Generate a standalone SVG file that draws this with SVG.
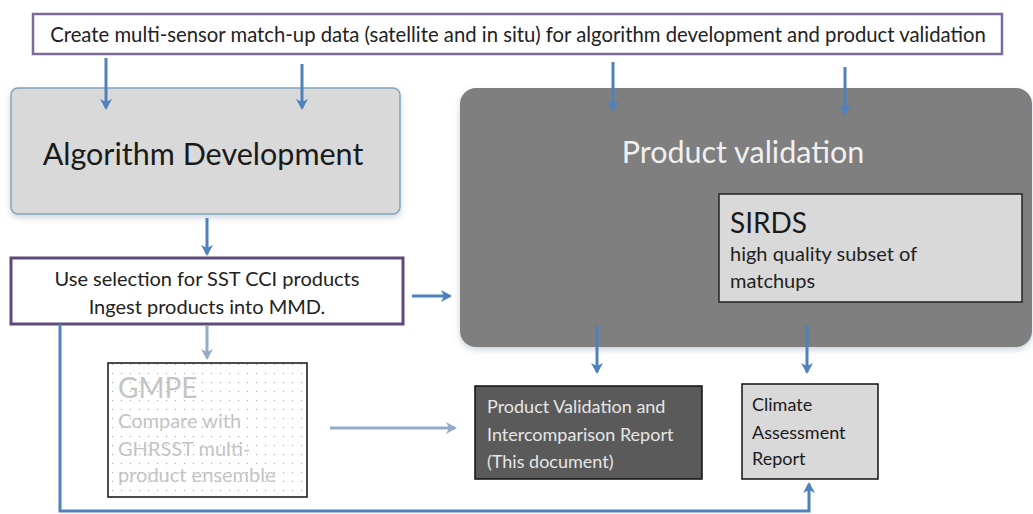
<svg xmlns="http://www.w3.org/2000/svg" width="1033" height="514" viewBox="0 0 1033 514">
<defs>
<marker id="ah" markerWidth="14" markerHeight="14" refX="9" refY="6" orient="auto" markerUnits="userSpaceOnUse">
<path d="M0,0 L11,6 L0,12 L3,6 Z" fill="#4f81bd"/>
</marker>
<marker id="ahl" markerWidth="14" markerHeight="14" refX="9" refY="6" orient="auto" markerUnits="userSpaceOnUse">
<path d="M0,0 L11,6 L0,12 L3,6 Z" fill="#93abc9"/>
</marker>
<pattern id="dots" width="9" height="9" patternUnits="userSpaceOnUse">
<rect width="9" height="9" fill="#ffffff"/>
<circle cx="4.5" cy="4.5" r="0.7" fill="#b0b0b0"/>
</pattern>
<filter id="sh" x="-5%" y="-5%" width="110%" height="115%">
<feDropShadow dx="0" dy="3" stdDeviation="3" flood-color="#9ab" flood-opacity="0.5"/>
</filter>
</defs>
<style>
text{font-family:Lato,"Open Sans","Liberation Sans",sans-serif}
.conn{stroke:#4f81bd;stroke-width:3;fill:none}
.connl{stroke:#93abc9;stroke-width:3;fill:none}
.t20{font-size:20px}
.t18{font-size:18px}
</style>
<rect width="1033" height="514" fill="#ffffff"/>

<g id="top">
<rect x="33" y="14" width="969" height="40" fill="#ffffff" stroke="#7b6a9a" stroke-width="2.5"/>
<text x="518" y="42" font-size="20.3" text-anchor="middle" fill="#222">Create multi-sensor match-up data (satellite and in situ) for algorithm development and product validation</text>
</g>

<g id="algdev">
<rect x="11" y="88" width="389" height="126" rx="7" fill="#d9d9d9" stroke="#7fa6bd" stroke-width="1.5" filter="url(#sh)"/>
<text x="203" y="165" font-size="30.5" text-anchor="middle" fill="#1a1a1a">Algorithm Development</text>
</g>

<g id="prodval">
<rect x="460" y="88" width="572" height="259" rx="16" fill="#7f7f7f" filter="url(#sh)"/>
<text x="743" y="163" font-size="30.5" text-anchor="middle" fill="#f0f0f0">Product validation</text>
</g>

<g id="sirds">
<rect x="719" y="194" width="303" height="108" fill="#d9d9d9" stroke="#222" stroke-width="1.5"/>
<text x="730" y="233" font-size="28" fill="#1a1a1a">SIRDS</text>
<text x="730" y="261" class="t20" fill="#222">high quality subset of</text>
<text x="730" y="288" class="t20" fill="#222">matchups</text>
</g>

<g id="usesel">
<rect x="11" y="258" width="392" height="66" fill="#ffffff" stroke="#5f4a7c" stroke-width="3"/>
<text x="207" y="286" class="t20" text-anchor="middle" fill="#222">Use selection for SST CCI products</text>
<text x="207" y="314" class="t20" text-anchor="middle" fill="#222">Ingest products into MMD.</text>
</g>

<g id="gmpe">
<rect x="108" y="363" width="199" height="134" fill="url(#dots)" stroke="#111" stroke-width="1.5"/>
<text x="118" y="398" font-size="28" fill="#c4c4c4">GMPE</text>
<text x="118" y="428" class="t20" fill="#c4c4c4">Compare with</text>
<text x="118" y="456" class="t20" fill="#c4c4c4">GHRSST multi-</text>
<text x="118" y="482" class="t20" fill="#c4c4c4">product ensemble</text>
</g>

<g id="pvir">
<rect x="475" y="386" width="227" height="93" fill="#5a5a5a" stroke="#111" stroke-width="1.5"/>
<text x="487" y="413" class="t18" fill="#e6e6e6">Product Validation and</text>
<text x="487" y="441" class="t18" fill="#e6e6e6">Intercomparison Report</text>
<text x="487" y="468" class="t18" fill="#e6e6e6">(This document)</text>
</g>

<g id="car">
<rect x="742" y="384" width="136" height="95" fill="#d9d9d9" stroke="#111" stroke-width="1.5"/>
<text x="752" y="411" class="t18" fill="#1a1a1a">Climate</text>
<text x="752" y="439" class="t18" fill="#1a1a1a">Assessment</text>
<text x="752" y="465" class="t18" fill="#1a1a1a">Report</text>
</g>

<g id="connectors">
<line class="conn" x1="106" y1="58" x2="106" y2="108" marker-end="url(#ah)"/>
<line class="conn" x1="302" y1="64" x2="302" y2="108" marker-end="url(#ah)"/>
<line class="conn" x1="613" y1="62" x2="613" y2="110" marker-end="url(#ah)"/>
<line class="conn" x1="845" y1="67" x2="845" y2="114" marker-end="url(#ah)"/>
<line class="conn" x1="207" y1="218" x2="207" y2="254" marker-end="url(#ah)"/>
<line class="conn" x1="412" y1="296" x2="450" y2="296" marker-end="url(#ah)"/>
<line class="conn" x1="597" y1="325" x2="597" y2="372" marker-end="url(#ah)"/>
<line class="conn" x1="807" y1="325" x2="807" y2="372" marker-end="url(#ah)"/>
<line class="connl" x1="207" y1="326" x2="207" y2="358" marker-end="url(#ahl)"/>
<line class="connl" x1="330" y1="428" x2="455" y2="428" marker-end="url(#ahl)"/>
<polyline class="conn" points="60,324 60,511 809,511 809,484" marker-end="url(#ah)"/>
</g>
</svg>
